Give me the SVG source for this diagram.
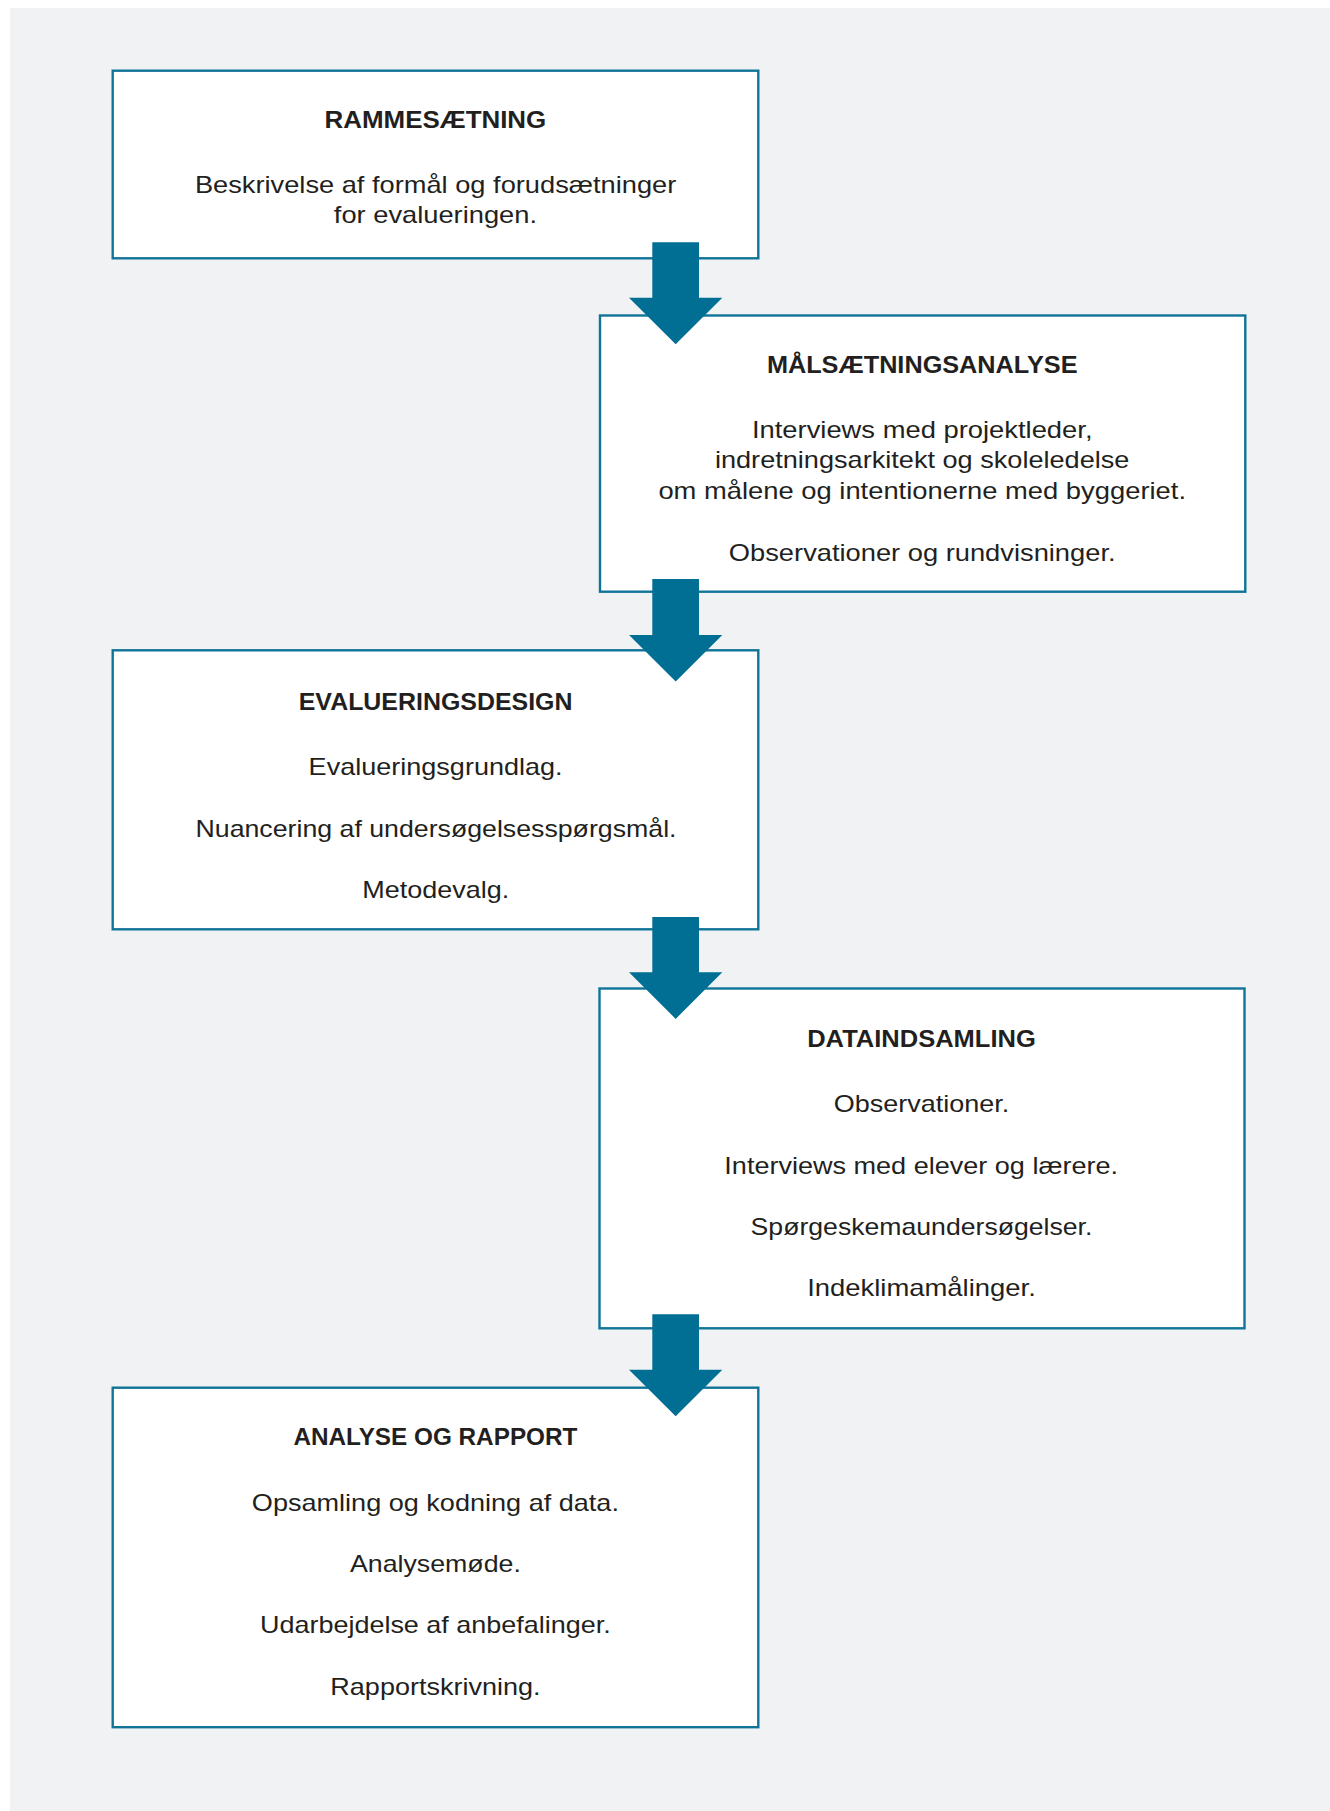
<svg xmlns="http://www.w3.org/2000/svg" width="1330" height="1811" viewBox="0 0 1330 1811">
  <style>
    .box { fill: #ffffff; stroke: #0f7497; stroke-width: 2.4; }
    .arrow { fill: #006f93; }
    .title { font-family: "Liberation Sans", Arial, sans-serif; font-weight: bold; font-size: 24px; fill: #231f20; text-anchor: middle; }
    .body { font-family: "Liberation Sans", Arial, sans-serif; font-size: 24px; fill: #231f20; text-anchor: middle; }
  </style>
  <rect x="0" y="0" width="1330" height="1811" fill="#ffffff"/>
  <rect x="10" y="8" width="1320" height="1803" fill="#f0f2f4"/>

  <g id="node-rammesaetning">
    <rect class="box" x="112.7" y="70.7" width="645.6" height="187.6"/>
    <text class="title" x="435.4" y="128.3" textLength="221.7" lengthAdjust="spacingAndGlyphs">RAMMESÆTNING</text>
    <text class="body" x="435.6" y="192.7" textLength="481.4" lengthAdjust="spacingAndGlyphs">Beskrivelse af formål og forudsætninger</text>
    <text class="body" x="435.4" y="222.7" textLength="203.2" lengthAdjust="spacingAndGlyphs">for evalueringen.</text>
  </g>

  <g id="node-maalsaetningsanalyse">
    <rect class="box" x="600" y="315.5" width="645.3" height="276.2"/>
    <text class="title" x="922.2" y="372.6" textLength="310.6" lengthAdjust="spacingAndGlyphs">MÅLSÆTNINGSANALYSE</text>
    <text class="body" x="922.2" y="437.9" textLength="340.6" lengthAdjust="spacingAndGlyphs">Interviews med projektleder,</text>
    <text class="body" x="922.2" y="468" textLength="414.5" lengthAdjust="spacingAndGlyphs">indretningsarkitekt og skoleledelse</text>
    <text class="body" x="922.2" y="498.8" textLength="527.6" lengthAdjust="spacingAndGlyphs">om målene og intentionerne med byggeriet.</text>
    <text class="body" x="922.2" y="560.6" textLength="386.7" lengthAdjust="spacingAndGlyphs">Observationer og rundvisninger.</text>
  </g>

  <g id="node-evalueringsdesign">
    <rect class="box" x="112.7" y="650.3" width="645.6" height="279"/>
    <text class="title" x="435.6" y="710.3" textLength="273.7" lengthAdjust="spacingAndGlyphs">EVALUERINGSDESIGN</text>
    <text class="body" x="435.6" y="774.8" textLength="254" lengthAdjust="spacingAndGlyphs">Evalueringsgrundlag.</text>
    <text class="body" x="436" y="836.6" textLength="481" lengthAdjust="spacingAndGlyphs">Nuancering af undersøgelsesspørgsmål.</text>
    <text class="body" x="435.8" y="898" textLength="147" lengthAdjust="spacingAndGlyphs">Metodevalg.</text>
  </g>

  <g id="node-dataindsamling">
    <rect class="box" x="599.5" y="988.5" width="645" height="339.8"/>
    <text class="title" x="921.5" y="1046.6" textLength="228.6" lengthAdjust="spacingAndGlyphs">DATAINDSAMLING</text>
    <text class="body" x="921.5" y="1112.4" textLength="175.5" lengthAdjust="spacingAndGlyphs">Observationer.</text>
    <text class="body" x="921.2" y="1173.6" textLength="393.7" lengthAdjust="spacingAndGlyphs">Interviews med elever og lærere.</text>
    <text class="body" x="921.5" y="1234.7" textLength="341.8" lengthAdjust="spacingAndGlyphs">Spørgeskemaundersøgelser.</text>
    <text class="body" x="921.5" y="1295.9" textLength="228.6" lengthAdjust="spacingAndGlyphs">Indeklimamålinger.</text>
  </g>

  <g id="node-analyse-og-rapport">
    <rect class="box" x="112.7" y="1387.7" width="645.6" height="339.5"/>
    <text class="title" x="435.4" y="1444.9" textLength="284" lengthAdjust="spacingAndGlyphs">ANALYSE OG RAPPORT</text>
    <text class="body" x="435.4" y="1510.7" textLength="367.1" lengthAdjust="spacingAndGlyphs">Opsamling og kodning af data.</text>
    <text class="body" x="435.4" y="1571.8" textLength="170.9" lengthAdjust="spacingAndGlyphs">Analysemøde.</text>
    <text class="body" x="435.4" y="1633" textLength="350.9" lengthAdjust="spacingAndGlyphs">Udarbejdelse af anbefalinger.</text>
    <text class="body" x="435.4" y="1695.4" textLength="210.1" lengthAdjust="spacingAndGlyphs">Rapportskrivning.</text>
  </g>

  <g id="connectors">
    <polygon class="arrow" points="652.3,242.3 699,242.3 699,297.7 722.3,297.7 675.7,344.3 629,297.7 652.3,297.7"/>
    <polygon class="arrow" points="652.3,579 699,579 699,635 722.3,635 675.7,681.6 629,635 652.3,635"/>
    <polygon class="arrow" points="652.3,917 699,917 699,972.3 722.3,972.3 675.7,1018.9 629,972.3 652.3,972.3"/>
    <polygon class="arrow" points="652.3,1314.3 699,1314.3 699,1369.7 722.3,1369.7 675.7,1416.3 629,1369.7 652.3,1369.7"/>
  </g>
</svg>
